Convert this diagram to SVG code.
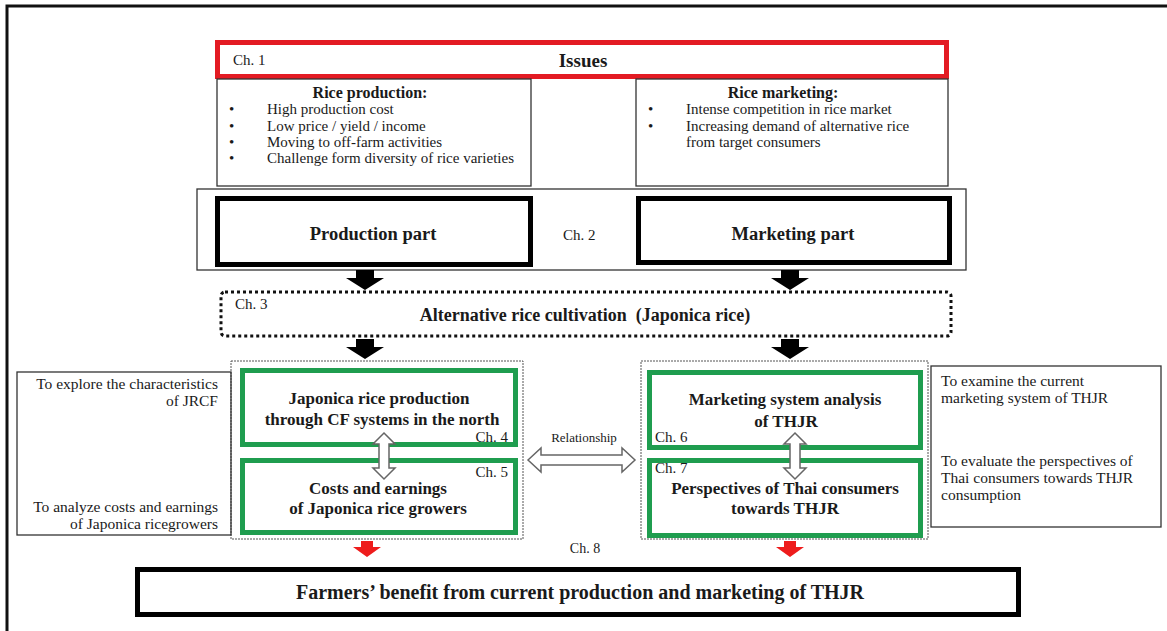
<svg xmlns="http://www.w3.org/2000/svg" width="1167" height="631" viewBox="0 0 1167 631">
  <defs>
    <style>
      text { font-family: "Liberation Serif", "Times New Roman", serif; fill: #1a1a1a; }
      .b { font-weight: bold; }
      .mid { text-anchor: middle; }
      .end { text-anchor: end; }
      .t15 { font-size: 15px; }
      .t16 { font-size: 15.5px; }
      .thin { fill: none; stroke: #333; stroke-width: 1.3; }
      .thick { fill: none; stroke: #000; stroke-width: 5; }
      .green { fill: none; stroke: #1f9d4f; stroke-width: 5; }
      .dots { fill: none; stroke: #555; stroke-width: 1; stroke-dasharray: 2 1; }
      .blk { fill: #000; }
      .red { fill: #ee1c1c; }
      .hollow { fill: #fff; stroke: #666; stroke-width: 1.5; }
    </style>
  </defs>

  <rect width="1167" height="631" fill="#fff"/>
  <!-- outer frame -->
  <rect x="7" y="6" width="1180" height="640" fill="none" stroke="#111" stroke-width="3"/>

  <g id="issues">
    <rect x="217.5" y="42.5" width="729" height="34" fill="#fff" stroke="#e31b23" stroke-width="5"/>
    <text x="233" y="65" class="t15">Ch. 1</text>
    <text x="583" y="67" class="b mid" font-size="19">Issues</text>
  </g>

  <g id="rice-production">
    <rect x="217" y="79" width="314" height="107" class="thin"/>
    <text x="370" y="98" class="b mid" font-size="16">Rice production:</text>
    <g class="t15">
      <text x="229" y="114">•</text><text x="267" y="114">High production cost</text>
      <text x="229" y="131">•</text><text x="267" y="131">Low price / yield / income</text>
      <text x="229" y="147">•</text><text x="267" y="147">Moving to off-farm activities</text>
      <text x="229" y="163">•</text><text x="267" y="163">Challenge form diversity of rice varieties</text>
    </g>
  </g>

  <g id="rice-marketing">
    <rect x="636" y="79" width="312" height="107" class="thin"/>
    <text x="783" y="98" class="b mid" font-size="16">Rice marketing:</text>
    <g class="t15">
      <text x="648" y="114">•</text><text x="686" y="114">Intense competition in rice market</text>
      <text x="648" y="131">•</text><text x="686" y="131">Increasing demand of alternative rice</text>
      <text x="686" y="147">from target consumers</text>
    </g>
  </g>

  <g id="ch2">
    <rect x="197" y="189" width="769" height="81" class="thin"/>
    <text x="563" y="240" class="t15">Ch. 2</text>
  </g>

  <g id="production-part">
    <rect x="217.5" y="198.5" width="313" height="66" class="thick" fill="#fff"/>
    <text x="373" y="240" class="b mid" font-size="18.5">Production part</text>
  </g>

  <g id="marketing-part">
    <rect x="638.5" y="198.5" width="311" height="64" class="thick"/>
    <text x="793" y="240" class="b mid" font-size="18.5">Marketing part</text>
  </g>

  <g id="alternative">
    <rect x="221" y="292" width="730" height="44" rx="4" fill="none" stroke="#111" stroke-width="3" stroke-dasharray="3 3"/>
    <text x="235" y="309" class="t15">Ch. 3</text>
    <text x="585" y="321" class="b mid" font-size="18" xml:space="preserve">Alternative rice cultivation  (Japonica rice)</text>
  </g>

  <g id="production-group">
    <rect x="231" y="361" width="292" height="178" class="dots"/>
  </g>

  <g id="jrcf">
    <rect x="242.5" y="370.5" width="273" height="74" class="green"/>
    <text x="379" y="404" class="b mid" font-size="17">Japonica rice production</text>
    <text x="382" y="425" class="b mid" font-size="17">through CF systems in the north</text>
    <text x="508" y="442" class="t15 end">Ch. 4</text>
  </g>

  <g id="costs">
    <rect x="242.5" y="460.5" width="273" height="72" class="green"/>
    <text x="508" y="477" class="t15 end">Ch. 5</text>
    <text x="378" y="494" class="b mid" font-size="17">Costs and earnings</text>
    <text x="378" y="514" class="b mid" font-size="17">of Japonica rice growers</text>
  </g>

  <g id="marketing-group">
    <rect x="641" y="361" width="287" height="178" class="dots"/>
  </g>

  <g id="marketing-system">
    <rect x="649.5" y="372.5" width="271" height="75" class="green"/>
    <text x="785" y="405" class="b mid" font-size="17">Marketing system analysis</text>
    <text x="786" y="427" class="b mid" font-size="17">of THJR</text>
    <text x="655" y="442" class="t15">Ch. 6</text>
  </g>

  <g id="perspectives">
    <rect x="649.5" y="460.5" width="271" height="75" class="green"/>
    <text x="655" y="473" class="t15">Ch. 7</text>
    <text x="785" y="494" class="b mid" font-size="17">Perspectives of Thai consumers</text>
    <text x="785" y="514" class="b mid" font-size="17">towards THJR</text>
  </g>

  <g id="objectives-production">
    <rect x="17" y="372" width="214" height="163" class="thin"/>
    <text x="218" y="389" class="t16 end">To explore the characteristics</text>
    <text x="218" y="406" class="t16 end">of JRCF</text>
    <text x="218" y="512" class="t16 end">To analyze costs and earnings</text>
    <text x="218" y="529" class="t16 end">of Japonica ricegrowers</text>
  </g>

  <g id="objectives-marketing">
    <rect x="931" y="366" width="230" height="161" class="thin"/>
    <text x="941" y="386" class="t16">To examine the current</text>
    <text x="941" y="403" class="t16">marketing system of THJR</text>
    <text x="941" y="466" class="t16">To evaluate the perspectives of</text>
    <text x="941" y="483" class="t16">Thai consumers towards THJR</text>
    <text x="941" y="500" class="t16">consumption</text>
  </g>

  <g id="benefit">
    <rect x="137.5" y="569.5" width="881" height="45" class="thick"/>
    <text x="580" y="599" class="b mid" font-size="20">Farmers’ benefit from current production and marketing of THJR</text>
    <text x="585" y="553" class="mid" font-size="14">Ch. 8</text>
  </g>

  <g id="connectors">
    <!-- block arrows between stages -->
    <path class="blk" d="M356 270 H374 V278 H384 L365 290 L346 278 H356 Z"/>
    <path class="blk" d="M781 270 H799 V278 H809 L790 290 L771 278 H781 Z"/>
    <path class="blk" d="M356 339 H374 V347 H384 L365 359 L346 347 H356 Z"/>
    <path class="blk" d="M781 339 H799 V347 H809 L790 359 L771 347 H781 Z"/>
    <!-- red arrows into the final result -->
    <path class="red" d="M361 541 H373 V547 H381 L367 557 L353 547 H361 Z"/>
    <path class="red" d="M784 541 H796 V547 H804 L790 557 L776 547 H784 Z"/>
    <!-- relationship -->
    <text x="584" y="442" class="mid" font-size="13">Relationship</text>
    <path class="hollow" d="M528 460 L541 448 V455 H622 V448 L635 460 L622 472 V465 H541 V472 Z"/>
    <!-- links inside each group -->
    <path class="hollow" d="M384 433 L395 444 H389 V468 H395 L384 479 L373 468 H379 V444 H373 Z"/>
    <path class="hollow" d="M795 433 L806 444 H800 V468 H806 L795 479 L784 468 H790 V444 H784 Z"/>
  </g>
</svg>
